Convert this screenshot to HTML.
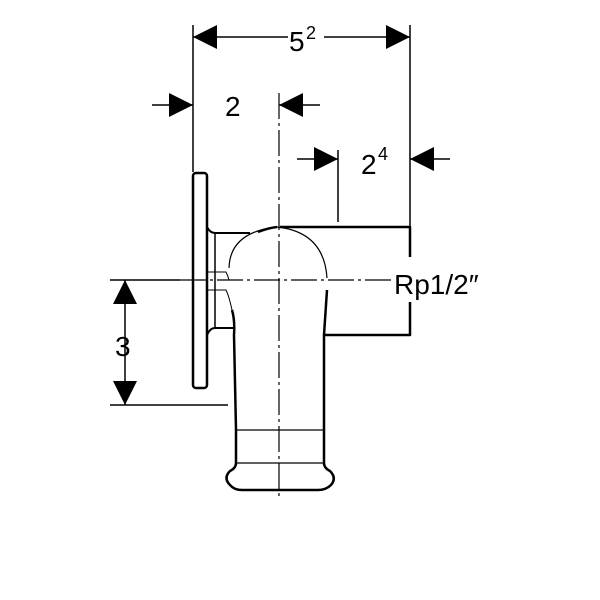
<!DOCTYPE html>
<html><head><style>body{margin:0;background:#fff}svg{display:block}</style></head><body>
<svg width="600" height="600" viewBox="0 0 600 600" xmlns="http://www.w3.org/2000/svg" font-family="Liberation Sans, sans-serif">
<g stroke="#000" stroke-width="1.5" fill="none">
<line x1="193" y1="25" x2="193" y2="172"/>
<line x1="410" y1="25" x2="410" y2="227"/>
<line x1="338" y1="150" x2="338" y2="222"/>
<line x1="110" y1="405" x2="228" y2="405"/>
<line x1="110" y1="280" x2="180" y2="280"/>
<line x1="193" y1="37" x2="288" y2="37"/><line x1="324" y1="37" x2="410" y2="37"/>
<line x1="152" y1="105" x2="193" y2="105"/><line x1="279" y1="105" x2="320" y2="105"/>
<line x1="297" y1="159" x2="338" y2="159"/><line x1="410" y1="159" x2="450" y2="159"/>
<line x1="125" y1="280" x2="125" y2="405"/>
<line x1="279" y1="93" x2="279" y2="500" stroke-width="1.2" stroke-dasharray="26,4,3,4"/>
<line x1="180" y1="280" x2="392" y2="280" stroke-width="1.2" stroke-dasharray="26,4,3,4"/>
</g>
<g fill="#000">
<polygon points="193,37 217,25 217,49"/><polygon points="410,37 386,25 386,49"/>
<polygon points="193,105 169,93 169,117"/><polygon points="279,105 303,93 303,117"/>
<polygon points="338,159 314,147 314,171"/><polygon points="410,159 434,147 434,171"/>
<polygon points="125,280 113,304 137,304"/><polygon points="125,405 113,381 137,381"/>
</g>
<g stroke="#000" fill="none" stroke-linejoin="round">
<rect x="193" y="173" width="14" height="215" rx="3" stroke-width="2.5"/>
<path d="M207,227 Q210,233 215,233 L250,233 M207,335 Q210,328 215,328 L234,328" stroke-width="2"/>
<line x1="215" y1="233" x2="215" y2="328" stroke-width="1.5"/>
<path d="M280,227 L410,227 L410,257 M410,302 L410,335 L324,335" stroke-width="2.5"/>
<path d="M229,268 Q230,232 277,227 Q324,232 327,278" stroke-width="1.2"/>
<path d="M258,232 Q268,228 277,227" stroke-width="2.5"/>
<path d="M207,272 L226,272 Q228,276 229,280 M207,290 L226,290 Q229,296 232,310" stroke-width="1"/>
<path d="M232,310 Q235,320 234,335 L236,430 L236,463" stroke-width="2.5"/>
<path d="M327,290 Q325,320 324,335 L324,430 L324,463" stroke-width="2.5"/>
<line x1="236" y1="430" x2="324" y2="430" stroke-width="1.2"/>
<line x1="236" y1="463" x2="324" y2="463" stroke-width="1.2"/>
<path d="M236,463 Q236,468 230,471 Q223,478 230,485 Q234,490 242,490 L318,490 Q326,490 331,485 Q337,478 330,471 Q324,468 324,463" stroke-width="2.5"/>
</g>
<g font-size="28" fill="#000">
<text x="289" y="51">5</text><text x="306" y="39" font-size="18">2</text>
<text x="225" y="116">2</text>
<text x="361" y="174">2</text><text x="378" y="160" font-size="18">4</text>
<text x="115" y="356">3</text>
<text x="394" y="294">Rp1/2″</text>
</g>
</svg>
</body></html>
